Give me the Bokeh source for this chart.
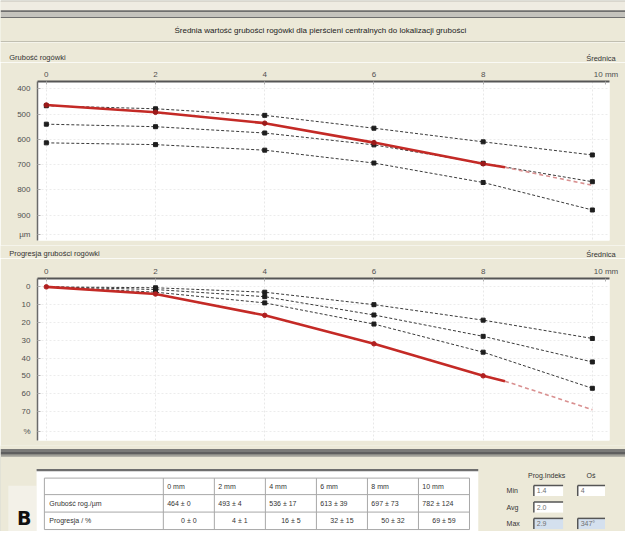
from bokeh.plotting import figure
from bokeh.layouts import column
from bokeh.models import Range1d, FixedTicker
from bokeh.embed import file_html
from bokeh.resources import INLINE
from bokeh.core.properties import value

FONT = "Liberation Sans"
BEIGE = "#ece9d8"
RED = "#c42a26"
EXT = "#d99090"
DOT = "#3a3a3a"

# ---------------- data ----------------
title_text = "Średnia wartość grubości rogówki dla pierścieni centralnych do lokalizacji grubości"
top_label = "Grubość rogówki"
bottom_label = "Progresja grubości rogówki"
diam_word = "Średnica"
diam_end = "10 mm"

diam_mm = [0, 2, 4, 6, 8, 10]
x_ticks = [0, 2, 4, 6, 8]
diam_end_pos = 10.25

# patient curve (solid part measured, dashed part extrapolated)
patient_x = [0, 2, 4, 6, 8, 8.4]
patient_thk = [464, 493, 536, 613, 697, 711]
patient_prog = [0, 4, 16, 32, 50, 53]
extrap_x = [8.4, 10]
extrap_thk = [711, 782]
extrap_prog = [53, 69]

# normal reference curves (dotted)
norm_thk_a = [467, 479, 505, 556, 610, 662]
norm_thk_b = [540, 550, 575, 622, 695, 768]
norm_thk_c = [614, 621, 643, 694, 771, 880]
norm_prog_a = [0, 0.5, 3, 10, 18.7, 29]
norm_prog_b = [0, 1.5, 5.5, 15.8, 27.8, 42.2]
norm_prog_c = [0, 3, 9, 20.9, 36.7, 57]

thk_ticks = [400, 500, 600, 700, 800, 900]
thk_unit = "µm"
prog_ticks = [0, 10, 20, 30, 40, 50, 60, 70]
prog_unit = "%"

table_cols = ["0 mm", "2 mm", "4 mm", "6 mm", "8 mm", "10 mm"]
table_rows = ["Grubość rog./µm", "Progresja / %"]
thk_mean = [464, 493, 536, 613, 697, 782]
thk_sd = [0, 4, 17, 39, 73, 124]
prog_mean = [0, 4, 16, 32, 50, 69]
prog_sd = [0, 1, 5, 15, 32, 59]

idx_title = "Prog.Indeks"
axis_title = "Oś"
idx_labels = ["Min", "Avg", "Max"]
idx_values = ["1.4", "2.0", "2.9"]
axis_values = ["4", None, "347°"]
panel_letter = "B"

# ---------------- layout geometry (reference pixels scaled to the page) ----------------
W, H = 625, 531
SX, SY = W / 641.0, H / 547.0
bounds = [round(r * SY) for r in (0, 43, 64, 252, 266, 458)] + [H]


def tx(px):
    return (px - 47) / 56.0


def ty_thk(py):
    return 400 + (py - 91) / 26.0 * 100


def ty_prog(py):
    return (py - 295) / 18.33 * 10


def blank(i):
    top, bot = bounds[i], bounds[i + 1]
    p = figure(width=W, height=bot - top, x_range=Range1d(0, W / SX),
               y_range=Range1d(bot / SY, top / SY),
               toolbar_location=None, output_backend="svg", min_border=0,
               x_axis_location=None, y_axis_location=None, outline_line_color=None,
               background_fill_color=BEIGE, border_fill_color=BEIGE, frame_align=False)
    p.xgrid.visible = False
    p.ygrid.visible = False
    return p


def small_text(p, xs, ys, texts, align="left", color="#333333", size="7.5px"):
    p.text(x=xs, y=ys, text=texts, text_font=value(FONT), text_font_size=size,
           text_align=align, text_baseline="middle", text_color=color)


def style_chart(p, yticks, unit_tick, unit):
    p.xaxis.ticker = FixedTicker(ticks=x_ticks + [diam_end_pos])
    p.xaxis.major_label_overrides = {diam_end_pos: diam_end}
    p.yaxis.ticker = FixedTicker(ticks=yticks + [unit_tick])
    p.yaxis.major_label_overrides = {unit_tick: unit}
    for ax in (p.xaxis[0], p.yaxis[0]):
        ax.major_label_text_font = FONT
        ax.major_label_text_font_size = "8px"
        ax.major_label_text_color = "#505050"
        ax.minor_tick_line_color = None
        ax.major_tick_out = 0
        ax.major_tick_in = 3
        ax.major_tick_line_color = "#b0b0b0"
    p.xaxis.axis_line_color = "#555555"
    p.xaxis.axis_line_width = 2
    p.xaxis.major_label_standoff = 3
    p.yaxis.axis_line_color = "#6a6a6a"
    p.yaxis.axis_line_width = 1.5
    p.yaxis.major_label_standoff = 7
    p.xgrid.ticker = FixedTicker(ticks=diam_mm)
    p.xgrid.grid_line_color = "#e8e8e8"
    p.xgrid.grid_line_dash = "2 2"
    p.ygrid.grid_line_color = "#ececec"
    p.ygrid.grid_line_dash = "2 2"


def chart(i, frame_top_ref, frame_bot_ref, yconv):
    top, bot = bounds[i], bounds[i + 1]
    ft, fb = round(frame_top_ref * SY), round(frame_bot_ref * SY)
    fl, fr = round(38 * SX), round(625 * SX)
    return figure(width=W, height=bot - top, x_range=Range1d(tx(fl / SX), tx(fr / SX)),
                  y_range=Range1d(yconv(fb / SY), yconv(ft / SY)), x_axis_location="above",
                  toolbar_location=None, output_backend="svg",
                  min_border_left=fl, min_border_right=W - fr,
                  min_border_top=ft - top, min_border_bottom=bot - fb,
                  background_fill_color="white", border_fill_color=BEIGE,
                  outline_line_color=None, frame_align=False)


# ---------------- header band ----------------
head = blank(0)
head.quad(left=[0] * 7, right=[641] * 7,
          top=[0, 1, 10, 12, 17, 18, 42], bottom=[1, 10, 12, 17, 18, 42, 43.5],
          fill_color=["#9a9a9a", "#efece2", "#6f6f6f", "#c4c3bd", "#6f6f6f", BEIGE, "#b3b1a4"],
          line_color=None)
small_text(head, [328], [30.5], [title_text], align="center", color="#222222", size="8px")

# ---------------- top chart ----------------
strip1 = blank(1)
small_text(strip1, [9], [59], [top_label])
small_text(strip1, [631], [60], [diam_word], align="right")

p1 = chart(2, 83, 247, ty_thk)
style_chart(p1, thk_ticks, 977, thk_unit)
for s in (norm_thk_a, norm_thk_b, norm_thk_c):
    p1.line(diam_mm, s, color=DOT, line_dash="3 2", line_width=1)
    p1.scatter(diam_mm, s, marker="square", size=4, color="#1e1e1e")
p1.line(extrap_x, extrap_thk, color=EXT, line_dash="4 3", line_width=1.6)
p1.line(patient_x, patient_thk, color=RED, line_width=2.6)
p1.scatter(patient_x[:5], patient_thk[:5], marker="circle", size=4.5, color="#9c1a1a")

# ---------------- bottom chart ----------------
strip2 = blank(3)
small_text(strip2, [9], [260.5], [bottom_label])
small_text(strip2, [631], [261.5], [diam_word], align="right")

p2 = chart(4, 286, 453, ty_prog)
style_chart(p2, prog_ticks, 81, prog_unit)
for s in (norm_prog_a, norm_prog_b, norm_prog_c):
    p2.line(diam_mm, s, color=DOT, line_dash="3 2", line_width=1)
    p2.scatter(diam_mm[1:], s[1:], marker="square", size=4, color="#1e1e1e")
p2.line(extrap_x, extrap_prog, color=EXT, line_dash="4 3", line_width=1.6)
p2.line(patient_x, patient_prog, color=RED, line_width=2.6)
p2.scatter(patient_x[:5], patient_prog[:5], marker="circle", size=4.5, color="#b02020")

# ---------------- table panel ----------------
tb = blank(5)
tb.quad(left=[0] * 4, right=[641] * 4, top=[457, 462, 465, 468], bottom=[462, 465, 468, 548],
        fill_color=[BEIGE, "#7a7a78", "#5f5f5f", "#a09f98"], line_color=None)
tb.quad(left=[0], right=[641], top=[470], bottom=[548], fill_color=BEIGE, line_color=None)
tb.quad(left=[8], right=[37], top=[500], bottom=[548], fill_color="#f3f1e8", line_color=None)
tb.quad(left=[37], right=[490], top=[483], bottom=[548], fill_color="white", line_color=None)
tb.quad(left=[37], right=[490], top=[482.5], bottom=[485], fill_color="#6e6e6e", line_color=None)

grid_l, grid_r = 45, 481
label_w = 167
col_w = (grid_r - label_w) / len(table_cols)
row_lines = [492, 509, 527, 545]
vlines = [grid_l, label_w] + [label_w + (i + 1) * col_w for i in range(len(table_cols))]
tb.segment(x0=[grid_l] * len(row_lines), x1=[grid_r] * len(row_lines), y0=row_lines, y1=row_lines,
           line_color="#a8a8a8", line_width=1)
tb.segment(x0=vlines, x1=vlines, y0=[492] * len(vlines), y1=[545] * len(vlines),
           line_color="#a8a8a8", line_width=1)

hx = [label_w + i * col_w + 4 for i in range(len(table_cols))]
small_text(tb, hx, [500.5] * len(hx), table_cols, size="7px")
small_text(tb, [50, 50], [518, 535.5], table_rows, size="7px")
small_text(tb, hx, [518] * len(hx), [f"{m} ± {s}" for m, s in zip(thk_mean, thk_sd)], size="7px")
cx = [label_w + (i + 0.5) * col_w for i in range(len(table_cols))]
small_text(tb, cx, [535.5] * len(cx), [f"{m} ± {s}" for m, s in zip(prog_mean, prog_sd)],
           align="center", size="7px")

tb.text(x=[17], y=[533], text=[panel_letter], text_font=value("DejaVu Sans"), text_font_size="19px",
        text_font_style="bold", text_baseline="middle", text_color="#111111")

# right panel: progression index
small_text(tb, [541, 601], [489, 489], [idx_title, axis_title], size="7px")
rows_y = [505, 522, 539]
small_text(tb, [519] * 3, rows_y, idx_labels, size="7px")
box_fill = ["white", "white", "#d4e0ee"]
for yy, val, ax_val, fc in zip(rows_y, idx_values, axis_values, box_fill):
    boxes = [(547, 577, val)]
    if ax_val is not None:
        boxes.append((592, 620, ax_val))
    for l, r, t in boxes:
        tb.quad(left=[l], right=[r], top=[yy - 5.5], bottom=[yy + 5.5], fill_color=fc, line_color=None)
        tb.segment(x0=[l, l], x1=[r, l], y0=[yy - 5.5, yy - 5.5], y1=[yy - 5.5, yy + 5.5],
                   line_color="#555555", line_width=1.5)
        small_text(tb, [l + 3], [yy], [t], color="#707070", size="7px")

layout = column(head, strip1, p1, strip2, p2, tb, spacing=0)
open("out.html", "w").write(file_html(layout, INLINE))
